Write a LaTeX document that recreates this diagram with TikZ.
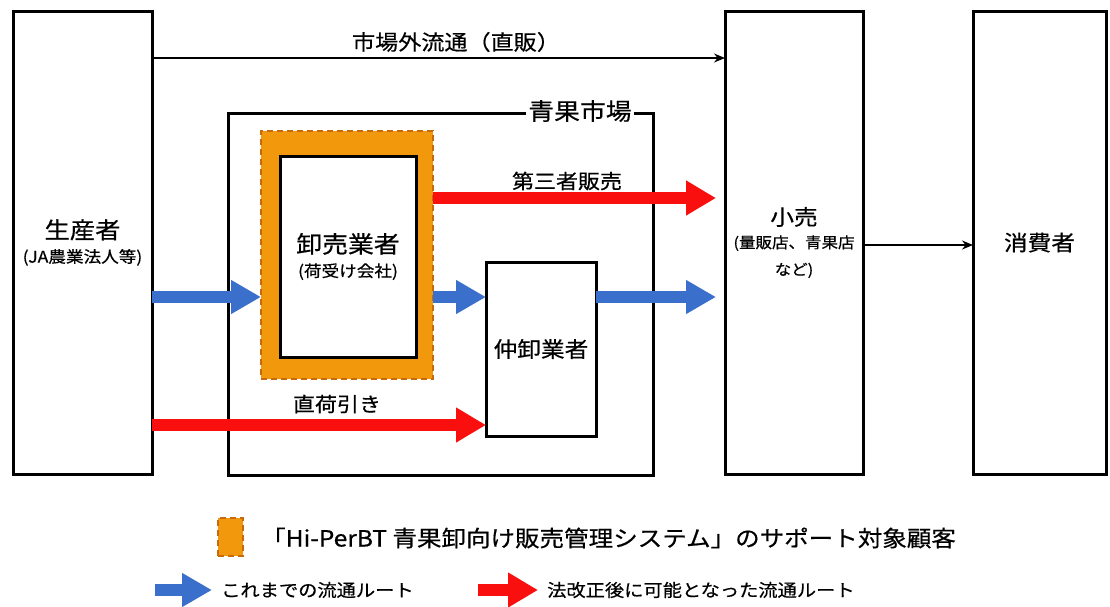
\documentclass[tikz,border=0pt]{standalone}
\usepackage{fontspec}
\setmainfont{Noto Sans CJK JP}[FakeStretch=1.1,FakeBold=0.5]
\usetikzlibrary{arrows.meta,shadows}
\definecolor{bluearr}{RGB}{58,112,204}
\definecolor{redarr}{RGB}{250,15,15}
\definecolor{orangefill}{RGB}{242,152,12}
\definecolor{orangedash}{RGB}{200,105,10}
\newcommand{\smallfs}{\fontsize{15}{20}\selectfont}
\newcommand{\subfs}{\fontsize{16}{20}\selectfont}
\begin{document}
\begin{tikzpicture}[x=1pt,y=-1pt,
  box/.style={draw=black, line width=3pt, fill=white, inner sep=0pt, outer sep=0pt,
    anchor=north west, align=center,
    drop shadow={shadow xshift=1.5pt, shadow yshift=-1.5pt, opacity=0.3}},
  obox/.style={draw=orangedash, fill=orangefill, line width=2pt, dash pattern=on 6pt off 4pt,
    inner sep=0pt, outer sep=0pt, anchor=north west},
  big/.style={font=\fontsize{21.5}{27}\selectfont},
  lbl/.style={font=\fontsize{20}{24}\selectfont, inner sep=1pt},
  thinarrow/.style={draw=black, line width=1.6pt, -{Stealth[length=11pt,width=9pt]}},
  fatblue/.style={draw=bluearr, line width=12pt, -{Triangle[length=30pt,width=32pt]}},
  fatred/.style={draw=redarr, line width=12pt, -{Triangle[length=30pt,width=33pt]}},
]
\useasboundingbox (0,0) rectangle (1110,606);

% main boxes
\node[box, minimum width=139pt, minimum height=463pt, font=\fontsize{23}{27}\selectfont] (prod) at (13,11)
  {生産者\\[-3pt]\subfs (JA農業法人等)};
\node[box, minimum width=138pt, minimum height=463pt, big] (retail) at (725,11)
  {小売\\[-4pt]\smallfs (量販店、青果店\\\smallfs など)};
\node[box, minimum width=133pt, minimum height=463pt, big] (cons) at (973,11) {消費者};

% market box
\node[box, minimum width=425pt, minimum height=362pt] (market) at (228,113) {};
\node[fill=white, inner sep=2pt, font=\fontsize{23.5}{30}\selectfont] (marketlbl) at (580,111) {青果市場};

% wholesaler (supported)
\node[obox, minimum width=172pt, minimum height=248pt] (orange) at (261,131) {};
\node[box, minimum width=136pt, minimum height=201pt, font=\fontsize{23.5}{27}\selectfont] (whole) at (280,156)
  {卸売業者\\[-3pt]\subfs (荷受け会社)};

% intermediate wholesaler
\node[box, minimum width=110pt, minimum height=174pt, big] (naka) at (486,262) {仲卸業者};

% rows
\coordinate (rowTop) at (0,58);
\coordinate (rowR) at (0,198);
\coordinate (rowC) at (0,245);
\coordinate (rowB) at (0,297);
\coordinate (rowD) at (0,425);

% thin arrows
\draw[thinarrow] (prod.east |- rowTop) -- (retail.west |- rowTop);
\node[lbl, font=\fontsize{21}{24}\selectfont] (lblTop) at (456,42) {市場外流通（直販）};
\draw[thinarrow] (retail.east |- rowC) -- (cons.west |- rowC);

% blue arrows
\draw[fatblue] (prod.east |- rowB) -- (orange.west |- rowB);
\draw[fatblue] (orange.east |- rowB) -- (naka.west |- rowB);
\draw[fatblue, shorten >=9pt] (naka.east |- rowB) -- (retail.west |- rowB);

% red arrows
\draw[fatred, shorten >=9pt] (orange.east |- rowR) -- (retail.west |- rowR);
\node[lbl] (lbl3) at (567,181) {第三者販売};
\draw[fatred] (prod.east |- rowD) -- (naka.west |- rowD);
\node[lbl] (lbl4) at (337,404) {直荷引き};

% legend
\node[obox, minimum width=25pt, minimum height=38pt] (legO) at (218,518) {};
\node[anchor=west, inner sep=0pt, font=\fontsize{22.3}{26}\selectfont] (legOt) at (261,538)
  {「Hi-PerBT 青果卸向け販売管理システム」のサポート対象顧客};
\coordinate (legB1) at (155,590);
\coordinate (legB2) at (212,590);
\draw[fatblue] (legB1) -- (legB2);
\node[anchor=west, inner sep=0pt, font=\fontsize{17.5}{23}\selectfont] (legBt) at (221,590) {これまでの流通ルート};
\coordinate (legR1) at (478,590);
\coordinate (legR2) at (538,590);
\draw[fatred] (legR1) -- (legR2);
\node[anchor=west, inner sep=0pt, font=\fontsize{17.5}{23}\selectfont] (legRt) at (547,590) {法改正後に可能となった流通ルート};
\end{tikzpicture}
\end{document}
